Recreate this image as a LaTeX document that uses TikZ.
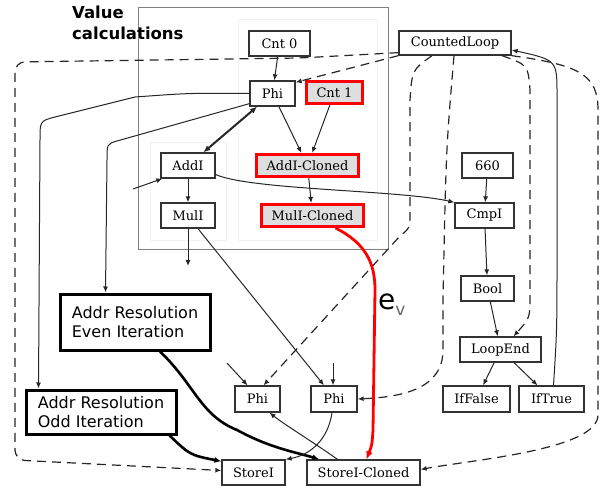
\documentclass[tikz,border=0pt]{standalone}
\usepackage{fontspec}
\setmainfont{DejaVu Serif}
\newfontfamily\labelfont{DejaVu Sans}
\usetikzlibrary{arrows.meta}

\tikzset{
    op/.style={draw=black!80, line width=1.3pt, fill=white, minimum height=25pt, inner sep=0pt, font=\fontsize{13}{15}\selectfont},
    cloned/.style={op, draw=red, line width=3pt, fill=black!13, minimum height=22pt},
    addr/.style={draw=black, line width=3pt, fill=white, align=left, inner sep=0pt, font=\labelfont\fontsize{16}{19}\selectfont},
    title/.style={anchor=north west, align=left, inner sep=0pt, font=\labelfont\bfseries\fontsize{16.5}{21}\selectfont},
    arr/.style={-{Latex[length=6pt,width=5pt]}, line width=1pt, black!85},
    ctrl/.style={arr, line width=1.2pt, dash pattern=on 9pt off 6pt},
    heavy/.style={arr, line width=2.6pt, black, -{Latex[length=7pt,width=6pt]}},
}

\begin{document}
\begin{tikzpicture}[x=1pt, y=-1pt]
                \useasboundingbox (0,0) rectangle (601,486);
                \draw[black!50] (138,7) rectangle (388,249);
                \draw[black!5] (150,142) rectangle (226,240);
                \draw[black!5] (238,19) rectangle (377,240);
                \node[title] (20) at (72,6) {Value\\calculations};
                \node[op, minimum width=61pt] (0) at (279.5,43.5) {Cnt 0};
                \node[op, minimum width=45pt] (1) at (272.5,93.5) {Phi};
                \node[cloned, minimum width=56pt] (2) at (334.5,92.5) {Cnt 1};
                \node[op, minimum width=54pt] (3) at (188,165.5) {AddI};
                \node[cloned, minimum width=102pt] (4) at (307.5,165.5) {AddI-Cloned};
                \node[op, minimum width=54pt] (5) at (188,215.5) {MulI};
                \node[cloned, minimum width=102pt] (6) at (312.5,215.5) {MulI-Cloned};
                \node[op, minimum width=112pt, minimum height=24pt] (7) at (455,43) {CountedLoop};
                \node[op, minimum width=51pt] (8) at (487.5,165.5) {660};
                \node[op, minimum width=59pt] (9) at (484.5,215.5) {CmpI};
                \node[op, minimum width=53pt] (10) at (487.5,288.5) {Bool};
                \node[op, minimum width=81pt] (11) at (500.5,349.5) {LoopEnd};
                \node[op, minimum width=67pt, minimum height=26pt] (12) at (476.5,399) {IfFalse};
                \node[op, minimum width=65pt, minimum height=26pt] (13) at (551.5,399) {IfTrue};
                \node[op, minimum width=45pt, minimum height=26pt] (14) at (257.5,399) {Phi};
                \node[op, minimum width=46pt, minimum height=26pt] (15) at (334,399) {Phi};
                \node[op, minimum width=63pt] (16) at (253.5,472.5) {StoreI};
                \node[op, minimum width=113pt] (17) at (363.5,472.5) {StoreI-Cloned};
                \node[addr, minimum width=150pt, minimum height=56pt] (18) at (135,322) {Addr Resolution\\Even Iteration};
                \node[addr, minimum width=150pt, minimum height=44pt] (19) at (101,412) {Addr Resolution\\Odd Iteration};
                \node[anchor=base west, inner sep=0pt, font=\labelfont] (21) at (378,309) {\fontsize{28}{28}\selectfont e\raisebox{-6pt}{\fontsize{17}{17}\selectfont\color{black!60}v}};
                \coordinate (22) at (133,189);
                \coordinate (23) at (188,266);
                \coordinate (24) at (227,363);
                \coordinate (25) at (333,363);
                % value edges
                \draw[arr] (0) -- (1);
                \draw[arr, line width=2pt, {Latex[length=7pt,width=6pt]}-{Latex[length=7pt,width=6pt]}] (1) -- (3);
                \draw[arr] (1) -- (4);
                \draw[arr] (2) -- (4);
                \draw[arr] (3) -- (5);
                \draw[arr] (4) -- (6);
                \draw[arr] ([yshift=-9pt]3.east) .. controls (250,190) and (400,190) .. (9.north west);
                \draw[arr] (8) -- (9);
                \draw[arr] (9) -- (10);
                \draw[arr] (10) -- (11);
                \draw[arr] (11) -- (12);
                \draw[arr] (11) -- (13);
                \draw[arr] ([xshift=2pt]13.north) .. controls (557,330) .. (557,250) -- (557,95) .. controls (557,60) .. ([yshift=-7pt]7.east);
                % loop control
                \draw[ctrl] (7.south west) -- ([yshift=-2pt]1.north east);
                \draw[ctrl, rounded corners=10pt] ([yshift=3pt]7.south west) -- (300,58) -- (15,62) -- (15,460) -- ([yshift=2pt]16.west);
                \draw[ctrl] ([xshift=-23pt]7.south) .. controls (412,70) .. (410,100) -- (410,212) .. controls (410,228) .. (400,236) -- ([xshift=6pt]14.north);
                \draw[ctrl] ([xshift=-1pt]7.south) .. controls (446,150) .. (443,300) -- (443,350) .. controls (443,390) and (400,397) .. (15.east);
                \draw[ctrl] ([xshift=47pt]7.south) .. controls (528,65) .. (530,90) -- (530,295) .. controls (530,318) .. ([xshift=13pt]11.north);
                \draw[ctrl] (7.south east) .. controls (580,65) and (598,75) .. (598,110) -- (598,415) .. controls (598,450) and (470,460) .. ([yshift=3pt]17.east);
                % address edges
                \draw[arr] (1.west) .. controls (190,93) .. (135,97) -- (55,117) .. controls (40,121) .. (40,140) -- ([xshift=14pt]19.north west);
                \draw[arr] ([yshift=3pt]1.south west) -- (117,141) .. controls (107,144) .. (107,160) -- ([xshift=47pt]18.north west);
                \draw[arr] (22) -- ([xshift=2pt]3.south west);
                \draw[arr] (5) -- (23);
                \draw[arr] ([xshift=10pt]5.south) -- ([xshift=-10pt]15.north);
                \draw[arr] (24) -- ([xshift=-10pt]14.north);
                \draw[arr] (25) -- ([xshift=-1pt]15.north);
                \draw[heavy] ([xshift=25pt]18.south) .. controls (195,385) and (200,415) .. (237,430) .. controls (270,448) and (295,452) .. ([xshift=13pt]17.north west);
                \draw[heavy] ([xshift=-8pt]19.south east) .. controls (190,455) .. ([yshift=-2pt]16.north west);
                \draw[arr] ([xshift=-26pt]17.north) .. controls (310,440) and (285,425) .. ([xshift=12pt]14.south);
                \draw[arr] ([xshift=-2pt]15.south) .. controls (328,440) and (310,455) .. (16.north east);
                \draw[arr, red, line width=2.8pt, -{Latex[length=8pt,width=7pt]}] ([xshift=23pt]6.south) .. controls (365,243) and (375,262) .. (375,290) -- (373,430) .. controls (372,445) .. ([xshift=3pt]17.north);
    \end{tikzpicture}
\end{document}
